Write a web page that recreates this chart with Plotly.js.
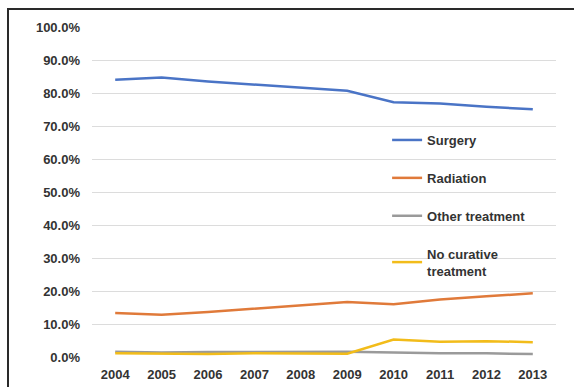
<!DOCTYPE html>
<html>
<head>
<meta charset="utf-8">
<script src="https://cdn.plot.ly/plotly-3.0.1.min.js"></script>
<style>
html,body{margin:0;padding:0;background:#fff;}
#wrap{position:relative;width:574px;height:387px;overflow:hidden;}
#chart{position:absolute;left:0;top:0;width:574px;height:387px;}
#frame{position:absolute;left:7px;top:8px;width:600px;height:400px;border-top:2px solid #2a2a2a;border-left:2px solid #2a2a2a;pointer-events:none;}
</style>
</head>
<body>
<div id="wrap"><div id="chart"></div><div id="frame"></div></div>
<script>
const years = ['2004','2005','2006','2007','2008','2009','2010','2011','2012','2013'];
const surgery   = [0.840, 0.847, 0.835, 0.825, 0.815, 0.807, 0.772, 0.768, 0.758, 0.751];
const radiation = [0.133, 0.128, 0.136, 0.146, 0.157, 0.167, 0.160, 0.174, 0.184, 0.193];
const other     = [0.016, 0.014, 0.015, 0.016, 0.016, 0.016, 0.014, 0.011, 0.011, 0.009];
const noCure    = [0.011, 0.010, 0.009, 0.011, 0.011, 0.010, 0.053, 0.046, 0.048, 0.045];
const seriesNames = ['Surgery','Radiation','Other treatment','No curative<br>treatment'];
const seriesColors = ['#4a74c6','#e07a3a','#9a9a9a','#f2bc1a'];
const seriesData = [surgery, radiation, other, noCure];

const traces = seriesData.map((d,i)=>({
  x: years, y: d, type:'scatter', mode:'lines', name: seriesNames[i],
  legendgroup: 'g'+i,
  line:{color: seriesColors[i], width:2.5},
  hoverinfo:'skip'
}));

const font = {family:'Liberation Sans, Arial, sans-serif', size:13, color:'#333333', weight:'bold'};
const layout = {
  width:574, height:387,
  margin:{l:92, r:18, t:27, b:30},
  paper_bgcolor:'#fff', plot_bgcolor:'#fff',
  font: font,
  showlegend:true,
  legend:{x:0.636, xanchor:'left', y:0.703, yanchor:'top', bgcolor:'rgba(0,0,0,0)',
          font:font, tracegroupgap:18, traceorder:'grouped', itemwidth:30},
  xaxis:{type:'category', range:[-0.5, 9.5], showgrid:false, zeroline:false, showline:false, ticks:'',
         tickfont:font, ticklabelstandoff:8, fixedrange:true},
  yaxis:{range:[0,1], dtick:0.1, tick0:0, tickformat:'.1%', showgrid:true, gridcolor:'#dcdcdc',
         gridwidth:1, zeroline:false, showline:false, ticks:'', tickfont:font, ticklabelstandoff:11,
         fixedrange:true}
};
Plotly.newPlot('chart', traces, layout, {staticPlot:true, displayModeBar:false});
</script>
</body>
</html>
